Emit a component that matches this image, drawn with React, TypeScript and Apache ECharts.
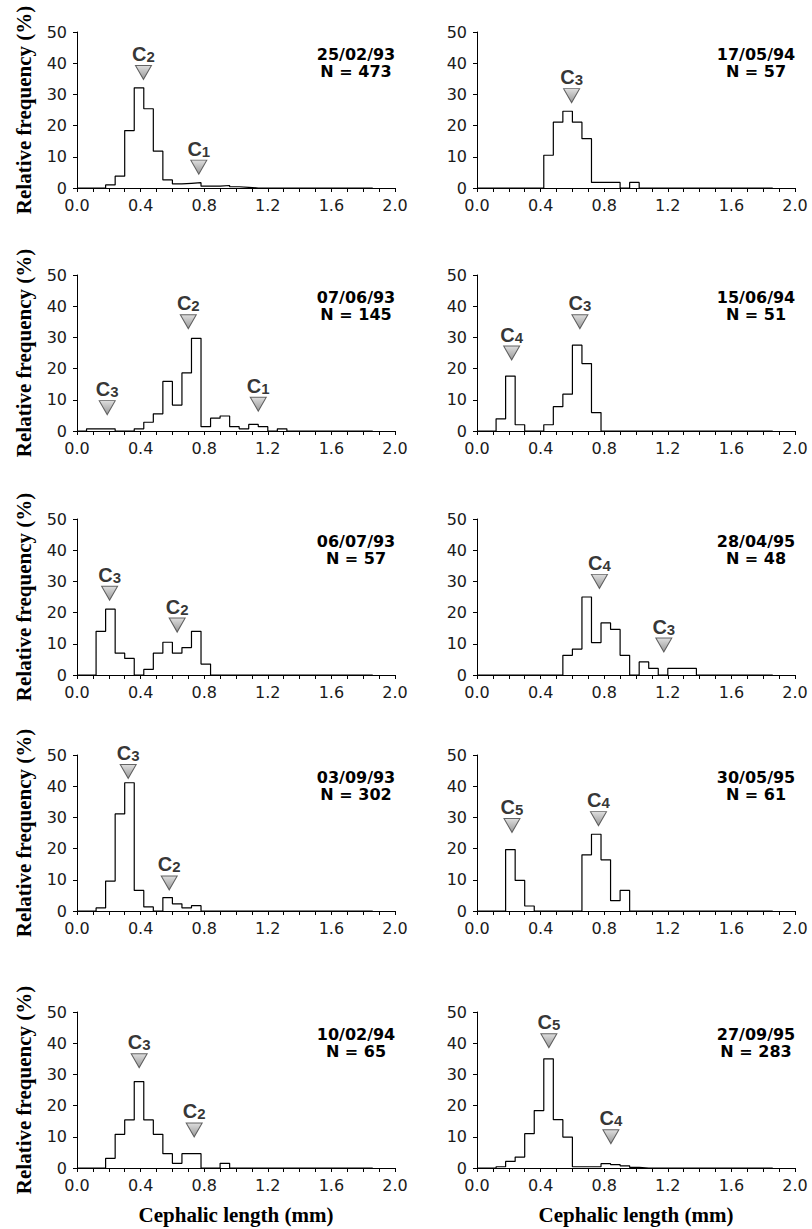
import React, { useEffect, useRef } from "react";
import * as echarts from "echarts";

// ---------- DATA ----------
const BIN_WIDTH = 0.06; // mm, class width of the histograms
const xMin = 0;
const xMax = 2.0;
const yMax = 50;

const dates = [
  "25/02/93", "17/05/94",
  "07/06/93", "15/06/94",
  "06/07/93", "28/04/95",
  "03/09/93", "30/05/95",
  "10/02/94", "27/09/95",
];
const sampleSizes = [473, 57, 145, 51, 57, 48, 302, 61, 65, 283];

// relative frequency (%) per 0.06 mm class, classes starting at 0.00, 0.06, ... 1.80
const freq_250293 = [0, 0, 0, 1.0, 3.8, 18.4, 32.1, 25.4, 11.8, 2.6, 1.3, 1.5, 1.7, 0.6, 0.6, 0.8, 0.4, 0.2, 0, 0, 0, 0, 0, 0, 0, 0, 0, 0, 0, 0, 0];
const freq_170594 = [0, 0, 0, 0, 0, 0, 0, 10.5, 21.1, 24.6, 21.1, 15.8, 1.8, 1.8, 1.8, 0, 1.8, 0, 0, 0, 0, 0, 0, 0, 0, 0, 0, 0, 0, 0, 0];
const freq_070693 = [0, 0.7, 0.7, 0.7, 0, 0, 0.7, 2.8, 5.5, 15.9, 8.3, 18.6, 29.7, 1.4, 4.1, 4.8, 1.4, 0.7, 2.1, 1.4, 0, 0.7, 0, 0, 0, 0, 0, 0, 0, 0, 0];
const freq_150694 = [0, 0, 3.9, 17.6, 2.0, 0, 0, 2.0, 7.8, 11.8, 27.5, 21.6, 5.9, 0, 0, 0, 0, 0, 0, 0, 0, 0, 0, 0, 0, 0, 0, 0, 0, 0, 0];
const freq_060793 = [0, 0, 14.0, 21.1, 7.0, 5.3, 0, 1.8, 7.0, 10.5, 7.0, 8.8, 14.0, 3.5, 0, 0, 0, 0, 0, 0, 0, 0, 0, 0, 0, 0, 0, 0, 0, 0, 0];
const freq_280495 = [0, 0, 0, 0, 0, 0, 0, 0, 0, 6.3, 8.3, 25.0, 10.4, 16.7, 14.6, 6.3, 0, 4.2, 2.1, 0, 2.1, 2.1, 2.1, 0, 0, 0, 0, 0, 0, 0, 0];
const freq_030993 = [0, 0, 1.0, 9.6, 31.1, 41.1, 6.6, 1.3, 0, 4.3, 2.3, 1.0, 1.7, 0, 0, 0, 0, 0, 0, 0, 0, 0, 0, 0, 0, 0, 0, 0, 0, 0, 0];
const freq_300595 = [0, 0, 0, 19.7, 9.8, 1.6, 0, 0, 0, 0, 0, 18.0, 24.6, 16.4, 3.3, 6.6, 0, 0, 0, 0, 0, 0, 0, 0, 0, 0, 0, 0, 0, 0, 0];
const freq_100294 = [0, 0, 0, 3.1, 10.8, 15.4, 27.7, 15.4, 10.8, 4.6, 1.5, 4.6, 4.6, 0, 0, 1.5, 0, 0, 0, 0, 0, 0, 0, 0, 0, 0, 0, 0, 0, 0, 0];
const freq_270995 = [0, 0, 0.4, 2.1, 3.5, 11.0, 18.4, 35.0, 15.5, 9.9, 0.4, 0.4, 0.4, 1.4, 1.1, 0.7, 0.2, 0, 0, 0, 0, 0, 0, 0, 0, 0, 0, 0, 0, 0, 0];

// cohort markers: [cephalic length (mm), frequency level (%), cohort number]
const cohorts_250293 = [[0.418, 37, 2], [0.766, 6.7, 1]];
const cohorts_170594 = [[0.595, 29.6, 3]];
const cohorts_070693 = [[0.19, 7.5, 3], [0.70, 35, 2], [1.14, 8.6, 1]];
const cohorts_150694 = [[0.218, 25, 4], [0.647, 35, 3]];
const cohorts_060793 = [[0.205, 26.2, 3], [0.63, 16, 2]];
const cohorts_280495 = [[0.77, 30, 4], [1.175, 9.6, 3]];
const cohorts_030993 = [[0.322, 44.7, 3], [0.58, 9.0, 2]];
const cohorts_300595 = [[0.22, 27.4, 5], [0.764, 29.6, 4]];
const cohorts_100294 = [[0.391, 34.4, 3], [0.737, 12.2, 2]];
const cohorts_270995 = [[0.452, 40.8, 5], [0.842, 10, 4]];

const frequencies = [
  freq_250293, freq_170594, freq_070693, freq_150694, freq_060793,
  freq_280495, freq_030993, freq_300595, freq_100294, freq_270995,
];
const cohortMarks = [
  cohorts_250293, cohorts_170594, cohorts_070693, cohorts_150694, cohorts_060793,
  cohorts_280495, cohorts_030993, cohorts_300595, cohorts_100294, cohorts_270995,
];

// ---------- LAYOUT ----------
const colLeft = [77, 477];
const rowTop = [32, 275, 519, 755, 1012];
const plotW = 318;
const plotH = 156;

const SANS = "Liberation Sans";
const BOLD_SANS = "DejaVu Sans";
const SERIF = "Liberation Serif";

function stepPoints(freq: number[]) {
  const pts: number[][] = [];
  freq.forEach((v, i) => {
    pts.push([i * BIN_WIDTH, v]);
    pts.push([(i + 1) * BIN_WIDTH, v]);
  });
  return pts;
}

function buildOption() {
  const grids: any[] = [];
  const xAxes: any[] = [];
  const yAxes: any[] = [];
  const series: any[] = [];
  const graphics: any[] = [];

  frequencies.forEach((freq, p) => {
    const row = Math.floor(p / 2);
    const col = p % 2;
    const left = colLeft[col];
    const top = rowTop[row];
    grids.push({ left, top, width: plotW, height: plotH, containLabel: false });

    xAxes.push({
      type: "value",
      gridIndex: p,
      min: xMin,
      max: xMax,
      interval: 0.4,
      axisLine: { show: true, onZero: false, lineStyle: { color: "#000", width: 1 } },
      axisTick: { show: true, inside: false, length: 4, lineStyle: { color: "#000", width: 1 } },
      minorTick: { show: true, splitNumber: 4, length: 4, lineStyle: { color: "#000", width: 1 } },
      splitLine: { show: false },
      minorSplitLine: { show: false },
      axisLabel: {
        formatter: (v: number) => v.toFixed(1),
        fontFamily: "DejaVu Sans",
        fontSize: 16,
        color: "#1a1a1a",
        margin: 9,
      },
      name: row === 4 ? "Cephalic length (mm)" : "",
      nameLocation: "middle",
      nameGap: 36,
      nameTextStyle: { fontFamily: SERIF, fontWeight: "bold", fontSize: 21, color: "#000" },
    });

    yAxes.push({
      type: "value",
      gridIndex: p,
      min: 0,
      max: yMax,
      interval: 10,
      axisLine: { show: true, onZero: false, lineStyle: { color: "#000", width: 1 } },
      axisTick: { show: true, inside: false, length: 4, lineStyle: { color: "#000", width: 1 } },
      splitLine: { show: false },
      axisLabel: { fontFamily: "DejaVu Sans", fontSize: 16, color: "#1a1a1a", margin: 10 },
      name: col === 0 ? "Relative frequency (%)" : "",
      nameLocation: "middle",
      nameGap: 43,
      nameTextStyle: { fontFamily: SERIF, fontWeight: "bold", fontSize: 21, color: "#000" },
    });

    series.push({
      type: "line",
      xAxisIndex: p,
      yAxisIndex: p,
      data: stepPoints(freq),
      symbol: "none",
      silent: true,
      lineStyle: { color: "#000", width: 1.2 },
      z: 3,
    });

    series.push({
      type: "scatter",
      xAxisIndex: p,
      yAxisIndex: p,
      data: cohortMarks[p].map((m) => ({ value: [m[0], m[1]], cohort: m[2] })),
      symbol: "path://M0,0L16,0L8,14Z",
      symbolSize: [16, 14],
      silent: true,
      itemStyle: {
        color: new echarts.graphic.LinearGradient(0, 0, 0, 1, [
          { offset: 0, color: "#d6d6d6" },
          { offset: 1, color: "#7d7d7d" },
        ]),
        borderColor: "#404040",
        borderWidth: 1,
      },
      label: {
        show: true,
        position: "top",
        distance: 1,
        formatter: (params: any) => `{c|C}{s|${params.data.cohort}}`,
        rich: {
          c: {
            fontFamily: SANS,
            fontWeight: "bold",
            fontSize: 20,
            lineHeight: 20,
            color: "#000",
            verticalAlign: "top",
            padding: [0, 0, 3, 0],
          },
          s: {
            fontFamily: SANS,
            fontWeight: "bold",
            fontSize: 15,
            lineHeight: 14,
            color: "#000",
            verticalAlign: "bottom",
          },
        },
      },
      z: 4,
    });

    const cx = left + plotW - 39;
    graphics.push({
      type: "text",
      x: cx,
      y: top + 22,
      style: {
        text: dates[p],
        font: `bold 16px '${BOLD_SANS}'`,
        fill: "#000",
        textAlign: "center",
        textVerticalAlign: "middle",
      },
    });
    graphics.push({
      type: "text",
      x: cx,
      y: top + 39,
      style: {
        text: `N = ${sampleSizes[p]}`,
        font: `bold 16px '${BOLD_SANS}'`,
        fill: "#000",
        textAlign: "center",
        textVerticalAlign: "middle",
      },
    });
  });

  return {
    animation: false,
    backgroundColor: "#fff",
    grid: grids,
    xAxis: xAxes,
    yAxis: yAxes,
    series,
    graphic: graphics,
  };
}

export default function App() {
  const ref = useRef<HTMLDivElement>(null);
  useEffect(() => {
    if (!ref.current) return;
    const chart = echarts.init(ref.current, null, { renderer: "svg" });
    chart.setOption(buildOption() as any);
    return () => chart.dispose();
  }, []);
  return (
    <div
      ref={ref}
      style={{ position: "absolute", left: 0, top: 0, width: 812, height: 1229, background: "#fff" }}
    />
  );
}
